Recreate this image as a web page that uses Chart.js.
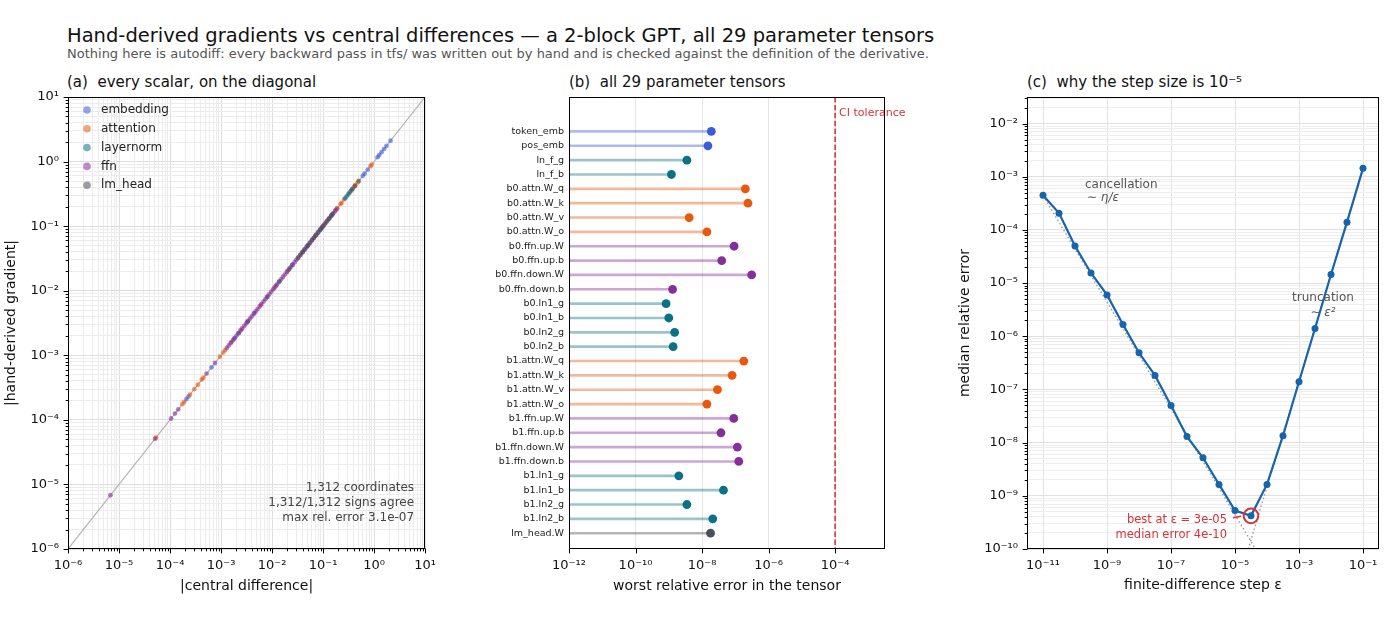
<!DOCTYPE html>
<html><head><meta charset="utf-8">
<script src="https://cdn.jsdelivr.net/npm/chart.js@4.4.1/dist/chart.umd.min.js"></script>
<style>
body{margin:0;background:#fff;width:1400px;height:620px;position:relative;overflow:hidden;font-family:"DejaVu Sans",sans-serif;}
.t{position:absolute;white-space:pre;color:#111;}
canvas{position:absolute;top:0;}
</style></head><body>
<div class="t" style="left:67px;top:24px;font-size:19.5px;line-height:23px;color:#111">Hand-derived gradients vs central differences — a 2-block GPT, all 29 parameter tensors</div>
<div class="t" style="left:67px;top:46px;font-size:13px;line-height:16px;color:#555">Nothing here is autodiff: every backward pass in tfs/ was written out by hand and is checked against the definition of the derivative.</div>
<div class="t" style="left:67px;top:73px;font-size:15px;line-height:18px">(a)  every scalar, on the diagonal</div>
<div class="t" style="left:569px;top:73px;font-size:15px;line-height:18px">(b)  all 29 parameter tensors</div>
<div class="t" style="left:1027px;top:73px;font-size:15px;line-height:18px">(c)  why the step size is 10⁻⁵</div>
<canvas id="ca" width="440" height="620" style="left:0px"></canvas>
<canvas id="cb" width="460" height="620" style="left:450px"></canvas>
<canvas id="cc" width="490" height="620" style="left:910px"></canvas>
<script>
// ---------------- data ----------------
const groups = ['embedding', 'attention', 'layernorm', 'ffn', 'lm_head'];
const groupColors = ['#3b5bdb', '#e8590c', '#0b7285', '#862e9c', '#495057'];

// panel (a): [|central difference|, |hand-derived gradient|]
const embeddingPts = [[2.1,2.1],[1.75,1.75],[1.57,1.57],[1.4,1.4],[1.26,1.26],[1.17,1.17],[0.75,0.75],[0.65,0.65],[0.6,0.6],[0.38,0.38],[6.5e-4,6.5e-4],[2.1e-4,2.1e-4],[2.3e-4,2.3e-4],[1.8e-3,1.8e-3],[4.5e-3,4.5e-3],[0.012,0.012]];
const attentionPts = [[0.9,0.9],[0.85,0.85],[0.48,0.48],[0.43,0.43],[0.41,0.41],[0.26,0.26],[0.23,0.23],[0.22,0.22],[0.19,0.19],[0.175,0.175],[1.2e-3,1.2e-3],[1.1e-3,1.1e-3],[9.5e-4,9.5e-4],[4.5e-4,4.5e-4],[4.2e-4,4.2e-4],[3.5e-4,3.5e-4],[3.0e-4,3.0e-4],[2.45e-4,2.45e-4],[1.9e-4,1.9e-4],[1.75e-4,1.75e-4],[5.3e-5,5.3e-5],[1.6e-3,1.6e-3],[2.5e-3,2.5e-3],[3.3e-3,3.3e-3],[6e-3,6e-3],[0.011,0.011],[0.02,0.02],[0.04,0.04],[0.07,0.07],[0.1,0.1],[0.13,0.13]];
const layernormPts = [[0.35,0.35],[0.31,0.31],[0.29,0.29],[0.27,0.27],[0.15,0.15],[0.09,0.09],[0.05,0.05],[0.025,0.025],[0.008,0.008],[3.3e-3,3.3e-3],[2.2e-3,2.2e-3]];
const ffnPts = [[6.8e-6,6.8e-6],[5.1e-5,5.1e-5],[1.05e-4,1.05e-4],[1.25e-4,1.25e-4],[1.45e-4,1.45e-4],[5.2e-4,5.2e-4],[7.6e-4,7.6e-4],
 [1.3e-3,1.3e-3],[1.42e-3,1.42e-3],[1.55e-3,1.55e-3],[1.7e-3,1.7e-3],[1.85e-3,1.85e-3],[2.0e-3,2.0e-3],[2.2e-3,2.2e-3],[2.4e-3,2.4e-3],[2.6e-3,2.6e-3],[2.85e-3,2.85e-3],[3.1e-3,3.1e-3],[3.4e-3,3.4e-3],[3.7e-3,3.7e-3],[4.0e-3,4.0e-3],[4.4e-3,4.4e-3],[4.8e-3,4.8e-3],[5.2e-3,5.2e-3],[5.7e-3,5.7e-3],[6.2e-3,6.2e-3],[6.8e-3,6.8e-3],[7.4e-3,7.4e-3],[8.1e-3,8.1e-3],[8.8e-3,8.8e-3],[9.6e-3,9.6e-3],
 [1.05e-2,1.05e-2],[1.15e-2,1.15e-2],[1.25e-2,1.25e-2],[1.37e-2,1.37e-2],[1.5e-2,1.5e-2],[1.63e-2,1.63e-2],[1.78e-2,1.78e-2],[1.95e-2,1.95e-2],[2.12e-2,2.12e-2],[2.32e-2,2.32e-2],[2.53e-2,2.53e-2],[2.76e-2,2.76e-2],[3.0e-2,3.0e-2],[3.3e-2,3.3e-2],[3.6e-2,3.6e-2],[3.9e-2,3.9e-2],[4.3e-2,4.3e-2],[4.7e-2,4.7e-2],[5.1e-2,5.1e-2],[5.6e-2,5.6e-2],[6.1e-2,6.1e-2],[6.6e-2,6.6e-2],[7.2e-2,7.2e-2],[7.9e-2,7.9e-2],[8.6e-2,8.6e-2],[9.4e-2,9.4e-2],
 [0.102,0.102],[0.112,0.112],[0.122,0.122],[0.133,0.133],[0.145,0.145],[0.158,0.158],[0.172,0.172],[0.185,0.185]];
const lmHeadPts = [[0.5,0.5],[0.42,0.42],[0.37,0.37],[0.33,0.33],[0.155,0.155],[0.143,0.143],[0.13,0.13],[0.118,0.118],[0.107,0.107],[0.097,0.097],[0.088,0.088],[0.08,0.08],[0.073,0.073],[0.066,0.066],[0.06,0.06],[0.054,0.054],[0.049,0.049],[0.044,0.044],[0.04,0.04],[0.036,0.036],[0.032,0.032],[0.022,0.022],[0.014,0.014]];
const scatterByGroup = [embeddingPts, attentionPts, layernormPts, ffnPts, lmHeadPts];
const diagonal = [[1e-6,1e-6],[10,10]];
const nCoordinates = 1312, nSignsAgree = 1312;

// panel (b)
const tensorNames = ['token_emb','pos_emb','ln_f_g','ln_f_b','b0.attn.W_q','b0.attn.W_k','b0.attn.W_v','b0.attn.W_o','b0.ffn.up.W','b0.ffn.up.b','b0.ffn.down.W','b0.ffn.down.b','b0.ln1_g','b0.ln1_b','b0.ln2_g','b0.ln2_b','b1.attn.W_q','b1.attn.W_k','b1.attn.W_v','b1.attn.W_o','b1.ffn.up.W','b1.ffn.up.b','b1.ffn.down.W','b1.ffn.down.b','b1.ln1_g','b1.ln1_b','b1.ln2_g','b1.ln2_b','lm_head.W'];
const tensorGroup = ['embedding','embedding','layernorm','layernorm','attention','attention','attention','attention','ffn','ffn','ffn','ffn','layernorm','layernorm','layernorm','layernorm','attention','attention','attention','attention','ffn','ffn','ffn','ffn','layernorm','layernorm','layernorm','layernorm','lm_head'];
const worstRelErr = [1.9e-8,1.5e-8,3.5e-9,1.2e-9,2.0e-7,2.4e-7,4.1e-9,1.4e-8,9.2e-8,3.9e-8,3.1e-7,1.3e-9,8.3e-10,1.0e-9,1.5e-9,1.35e-9,1.8e-7,8.0e-8,2.9e-8,1.4e-8,9.0e-8,3.7e-8,1.15e-7,1.27e-7,2.0e-9,4.4e-8,3.5e-9,2.1e-8,1.8e-8];
const ciTolerance = 1e-4;

// panel (c)
const stepEps = [1e-11,3.16e-11,1e-10,3.16e-10,1e-9,3.16e-9,1e-8,3.16e-8,1e-7,3.16e-7,1e-6,3.16e-6,1e-5,3.16e-5,1e-4,3.16e-4,1e-3,3.16e-3,1e-2,3.16e-2,1e-1];
const medianRelErr = [4.5e-4,2.07e-4,4.98e-5,1.55e-5,6.0e-6,1.66e-6,4.9e-7,1.84e-7,5.0e-8,1.3e-8,5.2e-9,1.64e-9,5.3e-10,4.2e-10,1.64e-9,1.35e-8,1.4e-7,1.4e-6,1.45e-5,1.4e-4,1.44e-3];
const cancellationRef = [[1e-11,4.4e-4],[4.4e-5,1e-10]];
const truncationRef = [[2.6e-5,1e-10],[1e-1,1.44e-3]];

// tick decades
const aTickExps = [-6,-5,-4,-3,-2,-1,0,1];
const bTickExps = [-12,-10,-8,-6,-4];
const cXTickExps = [-11,-9,-7,-5,-3,-1];
const cYTickExps = [-10,-9,-8,-7,-6,-5,-4,-3,-2];

// ---------------- helpers ----------------
Chart.defaults.font.family = '"DejaVu Sans", sans-serif';
Chart.defaults.color = '#111';
const SUP = {'-':'⁻','0':'⁰','1':'¹','2':'²','3':'³','4':'⁴','5':'⁵','6':'⁶','7':'⁷','8':'⁸','9':'⁹'};
function pow10Label(v){ const e = Math.round(Math.log10(v)); return '10' + String(e).split('').map(c => SUP[c]).join(''); }
function rgba(hex, a){ const n = parseInt(hex.slice(1), 16); return `rgba(${n>>16},${(n>>8)&255},${n&255},${a})`; }
function colorOf(g){ return groupColors[groups.indexOf(g)]; }
function pyExp(v, d){ return v.toExponential(d).replace(/e([+-])(\d)$/, 'e$10$2'); }
function logTicks(exps, minor, min, max){
  const out = [];
  exps.forEach(e => out.push({value: Math.pow(10, e), maj: true}));
  if (minor) {
    const lo = Math.floor(Math.log10(min)), hi = Math.ceil(Math.log10(max));
    for (let e = lo; e < hi; e++) for (let k = 2; k <= 9; k++) {
      const v = k * Math.pow(10, e);
      if (v >= min * 0.999 && v <= max * 1.001) out.push({value: v, maj: false});
    }
  }
  return out.sort((a, b) => a.value - b.value);
}
function toXY(arr){ return arr.map(p => ({x: p[0], y: p[1]})); }

function frameTicks(opts){
  opts = opts || {};
  return { id: 'frameTicks', afterDraw(chart){
    const {ctx, chartArea: a} = chart;
    ctx.save();
    ctx.strokeStyle = '#000'; ctx.lineWidth = 1;
    const L = Math.round(a.left) + 0.5, R = Math.round(a.right) - 0.5, T = Math.round(a.top) + 0.5, B = Math.round(a.bottom) - 0.5;
    ctx.beginPath();
    const sx = chart.scales.x;
    for (const t of sx.ticks) {
      const p = sx.getPixelForValue(t.value);
      if (p < a.left - 1 || p > a.right + 1) continue;
      const len = t.maj === false ? 2.8 : 4.9;
      const px = Math.round(p) + 0.5;
      ctx.moveTo(px, B); ctx.lineTo(px, B + len);
    }
    if (!opts.skipY) {
      const sy = chart.scales.y;
      for (const t of sy.ticks) {
        const p = sy.getPixelForValue(t.value);
        if (p < a.top - 1 || p > a.bottom + 1) continue;
        const len = t.maj === false ? 2.8 : 4.9;
        const py = Math.round(p) + 0.5;
        ctx.moveTo(L, py); ctx.lineTo(L - len, py);
      }
    }
    ctx.stroke();
    ctx.strokeRect(L, T, R - L, B - T);
    ctx.restore();
  }};
}
function gridColor(maj, min){ return c => (c.tick && c.tick.maj === false) ? min : maj; }
const tickLabel = (v, i, t) => (t[i] && t[i].maj) ? pow10Label(v) : '';

// ---------------- panel (a) ----------------
const noteA = { id: 'noteA', afterDatasetsDraw(chart){
  const {ctx, chartArea: a} = chart;
  ctx.save();
  // legend
  ctx.font = '12px "DejaVu Sans"'; ctx.textBaseline = 'middle'; ctx.textAlign = 'left';
  groups.forEach((g, i) => {
    const y = a.top + 13 + i * 18.8;
    ctx.fillStyle = rgba(groupColors[i], 0.55);
    ctx.beginPath(); ctx.arc(a.left + 19, y, 3.8, 0, Math.PI * 2); ctx.fill();
    ctx.fillStyle = '#222'; ctx.fillText(g, a.left + 33, y);
  });
  // summary
  ctx.textAlign = 'right'; ctx.fillStyle = '#444';
  const maxErr = Math.max(...worstRelErr);
  const lines = [nCoordinates.toLocaleString('en-US') + ' coordinates',
    nSignsAgree.toLocaleString('en-US') + '/' + nCoordinates.toLocaleString('en-US') + ' signs agree',
    'max rel. error ' + pyExp(maxErr, 1)];
  lines.forEach((s, i) => ctx.fillText(s, a.right - 11, a.bottom - 61 + i * 14.8));
  ctx.restore();
}};
const aDatasets = scatterByGroup.map((pts, gi) => ({
  label: groups[gi], data: toXY(pts), backgroundColor: rgba(groupColors[gi], 0.6),
  pointRadius: 2.4, pointBorderWidth: 0, order: 5 - gi
}));
aDatasets.push({label: 'diagonal', data: toXY(diagonal), showLine: true, borderColor: '#b4b4b4', borderWidth: 1.2, pointRadius: 0, order: 10});
new Chart(document.getElementById('ca'), {
  type: 'scatter',
  data: {datasets: aDatasets},
  options: {
    responsive: false, animation: false, events: [],
    layout: {padding: {top: 97, right: 14, left: 0, bottom: 0}},
    plugins: {legend: {display: false}, tooltip: {enabled: false}},
    scales: {
      x: {type: 'logarithmic', min: 1e-6, max: 10,
        afterBuildTicks: s => { s.ticks = logTicks(aTickExps, true, 1e-6, 10); },
        afterFit: s => { s.height = 71; },
        grid: {color: gridColor('#dedede', '#ececec'), tickLength: 5, tickColor: 'rgba(0,0,0,0)'},
        border: {display: false},
        ticks: {autoSkip: false, maxRotation: 0, padding: 4, font: {size: 13}, color: '#111', callback: tickLabel},
        title: {display: true, text: '|central difference|', font: {size: 14}, color: '#111', padding: {top: 0, bottom: 25}}},
      y: {type: 'logarithmic', min: 1e-6, max: 10,
        afterBuildTicks: s => { s.ticks = logTicks(aTickExps, true, 1e-6, 10); },
        afterFit: s => { s.width = 68; },
        grid: {color: gridColor('#dedede', '#ececec'), tickLength: 5, tickColor: 'rgba(0,0,0,0)'},
        border: {display: false},
        ticks: {autoSkip: false, padding: 4, font: {size: 13}, color: '#111', callback: tickLabel},
        title: {display: true, text: '|hand-derived gradient|', font: {size: 14}, color: '#111', padding: {top: 3, bottom: 0}}}
    }
  },
  plugins: [noteA, frameTicks()]
});

// ---------------- panel (b) ----------------
const bMin = 1e-12, bMax = Math.pow(10, -2.5), bYMin = -2.4, bYMax = 29.1;
const noteB = { id: 'noteB', afterDatasetsDraw(chart){
  const {ctx, chartArea: a, scales} = chart;
  ctx.save();
  ctx.font = '11px "DejaVu Sans"'; ctx.fillStyle = '#d6333a'; ctx.textAlign = 'left'; ctx.textBaseline = 'middle';
  ctx.fillText('CI tolerance', scales.x.getPixelForValue(ciTolerance) + 4, a.top + 16);
  ctx.restore();
}};
new Chart(document.getElementById('cb'), {
  type: 'scatter',
  data: {datasets: [
    {label: 'worst', data: worstRelErr.map((v, i) => ({x: v, y: i})), pointBackgroundColor: tensorGroup.map(colorOf), pointRadius: 4.4, pointBorderWidth: 0, order: 1},
    {type: 'bar', indexAxis: 'y', label: 'stems', data: worstRelErr.map((v, i) => ({x: [bMin, v], y: i})), backgroundColor: tensorGroup.map(g => rgba(colorOf(g), 0.42)), barThickness: 2, borderWidth: 0, order: 2},
    {label: 'ci', data: [{x: ciTolerance, y: bYMin}, {x: ciTolerance, y: bYMax}], showLine: true, borderColor: '#d6333a', borderWidth: 1.6, borderDash: [5.5, 2.4], pointRadius: 0, order: 3}
  ]},
  options: {
    responsive: false, animation: false, events: [],
    layout: {padding: {top: 97, right: 25, left: 0, bottom: 0}},
    plugins: {legend: {display: false}, tooltip: {enabled: false}},
    scales: {
      x: {type: 'logarithmic', min: bMin, max: bMax, offset: false,
        afterBuildTicks: s => { s.ticks = logTicks(bTickExps, false, bMin, bMax); },
        afterFit: s => { s.height = 71; },
        grid: {color: '#e6e6e6', tickLength: 5, tickColor: 'rgba(0,0,0,0)', offset: false},
        border: {display: false},
        ticks: {autoSkip: false, maxRotation: 0, padding: 4, font: {size: 13}, color: '#111', callback: tickLabel},
        title: {display: true, text: 'worst relative error in the tensor', font: {size: 14}, color: '#111', padding: {top: 0, bottom: 25}}},
      y: {type: 'linear', reverse: true, min: bYMin, max: bYMax, bounds: 'data', offset: false,
        afterBuildTicks: s => { s.ticks = tensorNames.map((_, i) => ({value: i})); },
        afterFit: s => { s.width = 119; },
        grid: {display: false, drawTicks: false, offset: false},
        border: {display: false},
        ticks: {autoSkip: false, padding: 5, font: {size: 9.5}, color: '#222', callback: v => tensorNames[v]}}
    }
  },
  plugins: [noteB, frameTicks({skipY: true})]
});

// ---------------- panel (c) ----------------
const cXMin = Math.pow(10, -11.5), cXMax = Math.pow(10, -0.5), cYMin = 1e-10, cYMax = Math.pow(10, -1.5);
let bestIdx = 0;
medianRelErr.forEach((v, i) => { if (v < medianRelErr[bestIdx]) bestIdx = i; });
const noteC = { id: 'noteC', afterDatasetsDraw(chart){
  const {ctx, chartArea: a, scales} = chart;
  ctx.save();
  ctx.textBaseline = 'middle'; ctx.fillStyle = '#555';
  ctx.font = '12px "DejaVu Sans"'; ctx.textAlign = 'left';
  ctx.fillText('cancellation', a.left + 58, a.top + 87.5);
  ctx.font = 'italic 12px "DejaVu Sans"';
  ctx.fillText('∼ η/ε', a.left + 60, a.top + 101);
  ctx.textAlign = 'center'; ctx.font = '12px "DejaVu Sans"';
  ctx.fillText('truncation', a.left + 296, a.top + 200.5);
  ctx.font = 'italic 12px "DejaVu Sans"';
  ctx.fillText('∼ ε²', a.left + 296, a.top + 216);
  // best marker annotation
  const px = scales.x.getPixelForValue(stepEps[bestIdx]), py = scales.y.getPixelForValue(medianRelErr[bestIdx]);
  ctx.strokeStyle = '#d6333a'; ctx.lineWidth = 1.5;
  ctx.beginPath(); ctx.moveTo(px - 18, py + 2); ctx.lineTo(px - 10, py + 0.5); ctx.stroke();
  ctx.fillStyle = '#d6333a'; ctx.textAlign = 'right'; ctx.font = '11.5px "DejaVu Sans"';
  ctx.fillText('best at ε = ' + pyExp(stepEps[bestIdx], 0), px - 24, py + 4);
  ctx.fillText('median error ' + pyExp(medianRelErr[bestIdx], 0), px - 24, py + 19);
  ctx.restore();
}};
new Chart(document.getElementById('cc'), {
  type: 'scatter',
  data: {datasets: [
    {label: 'best', data: [{x: stepEps[bestIdx], y: medianRelErr[bestIdx]}], pointRadius: 7.3, pointBorderColor: '#d6333a', pointBorderWidth: 2, pointBackgroundColor: 'rgba(0,0,0,0)', order: 0},
    {label: 'median', data: stepEps.map((e, i) => ({x: e, y: medianRelErr[i]})), showLine: true, borderColor: '#1864ab', borderWidth: 2.2, pointRadius: 3.5, pointBackgroundColor: '#1864ab', pointBorderWidth: 0, order: 1},
    {label: 'cancel', data: toXY(cancellationRef), showLine: true, borderColor: '#9aa4ae', borderWidth: 1.5, borderDash: [1.5, 2.5], pointRadius: 0, order: 2},
    {label: 'trunc', data: toXY(truncationRef), showLine: true, borderColor: '#9aa4ae', borderWidth: 1.5, borderDash: [1.5, 2.5], pointRadius: 0, order: 3}
  ]},
  options: {
    responsive: false, animation: false, events: [],
    layout: {padding: {top: 97, right: 21, left: 0, bottom: 0}},
    plugins: {legend: {display: false}, tooltip: {enabled: false}},
    scales: {
      x: {type: 'logarithmic', min: cXMin, max: cXMax,
        afterBuildTicks: s => { s.ticks = logTicks(cXTickExps, false, cXMin, cXMax); },
        afterFit: s => { s.height = 71; },
        grid: {color: '#e3e3e3', tickLength: 5, tickColor: 'rgba(0,0,0,0)'},
        border: {display: false},
        ticks: {autoSkip: false, maxRotation: 0, padding: 4, font: {size: 13}, color: '#111', callback: tickLabel},
        title: {display: true, text: 'finite-difference step ε', font: {size: 14}, color: '#111', padding: {top: 0, bottom: 26}}},
      y: {type: 'logarithmic', min: cYMin, max: cYMax,
        afterBuildTicks: s => { s.ticks = logTicks(cYTickExps, true, cYMin, cYMax); },
        afterFit: s => { s.width = 117; },
        grid: {color: gridColor('#e0e0e0', '#eeeeee'), tickLength: 5, tickColor: 'rgba(0,0,0,0)'},
        border: {display: false},
        ticks: {autoSkip: false, padding: 4, font: {size: 13}, color: '#111', callback: tickLabel},
        title: {display: true, text: 'median relative error', font: {size: 14}, color: '#111', padding: {top: 47, bottom: 0}}}
    }
  },
  plugins: [noteC, frameTicks()]
});
</script>
</body></html>
